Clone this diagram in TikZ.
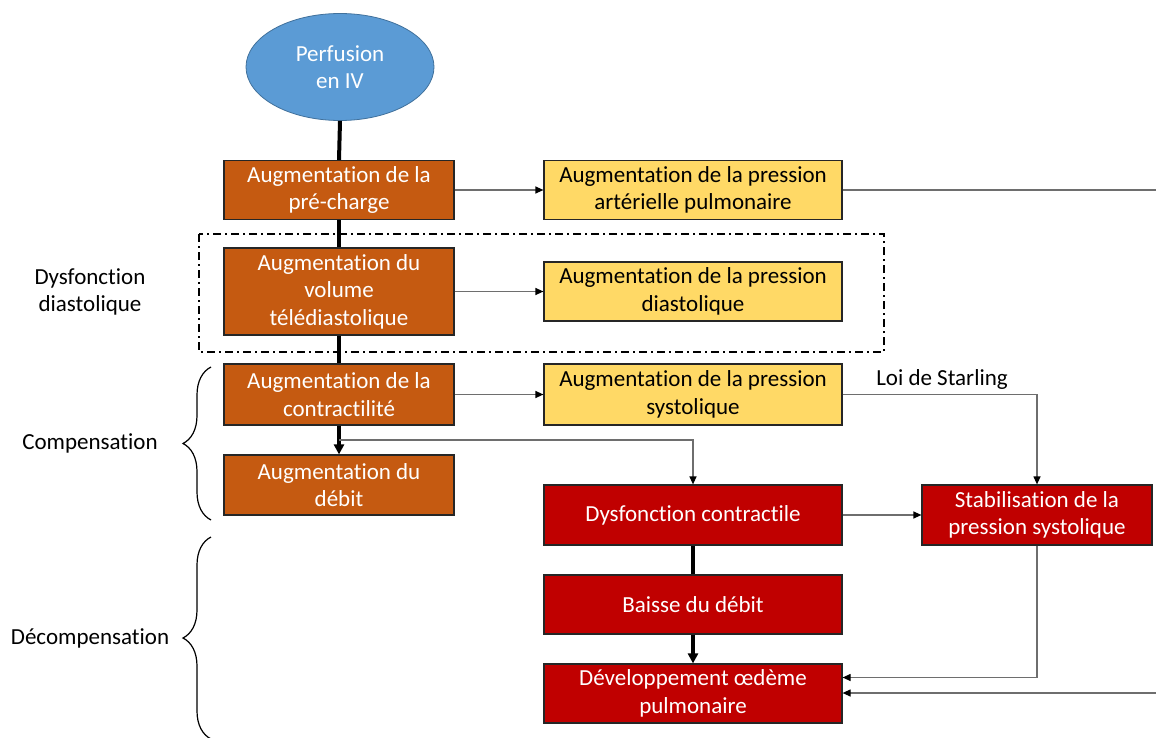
\documentclass[tikz,border=0pt]{standalone}
\usepackage{fontspec}
\setmainfont{Carlito}[Ligatures=NoCommon]
\usetikzlibrary{shapes.geometric, arrows.meta, positioning, calc, decorations.pathreplacing}
\definecolor{perfblue}{RGB}{91,155,213}
\definecolor{perfedge}{RGB}{65,113,156}
\definecolor{stepbrown}{RGB}{197,90,17}
\definecolor{presyellow}{RGB}{255,217,102}
\definecolor{failred}{RGB}{192,0,0}
\definecolor{linkgray}{RGB}{110,110,110}

\begin{document}
\begin{tikzpicture}[x=0.5pt, y=-0.5pt,
  box/.style={draw=black!85, line width=0.6pt, rectangle, align=center, font=\fontsize{11.5}{13.8}\selectfont, inner sep=0pt},
  brownbox/.style={box, fill=stepbrown, text=white, minimum width=115pt, minimum height=29.5pt},
  yellowbox/.style={box, fill=presyellow, text=black, minimum width=149pt, minimum height=29.5pt},
  redbox/.style={box, fill=failred, text=white, minimum width=149pt, minimum height=30pt},
  trunk/.style={line width=2pt, black},
  link/.style={linkgray, line width=0.6pt, -{Triangle[length=4pt, width=3.5pt, color=black]}},
  phase/.style={font=\fontsize{11.5}{13.8}\selectfont, align=center},
  bracket/.style={decorate, decoration={brace, amplitude=14pt}, line width=0.6pt},
]
  \useasboundingbox (0,0) rectangle (1156,738);

  % Start
  \node[ellipse, draw=perfedge, fill=perfblue, text=white, minimum width=94pt, minimum height=53.5pt, inner sep=0pt, font=\fontsize{11.5}{13.8}\selectfont, align=center] (perf) at (340,67) {Perfusion\\en IV};

  % Compensation chain
  \node[brownbox] (precharge) at (339,190) {Augmentation de la\\pré-charge};
  \node[brownbox, minimum height=43.5pt] (volume) at (339,291.5) {Augmentation du\\volume\\télédiastolique};
  \node[brownbox, minimum height=30.5pt] (contract) at (339,394.5) {Augmentation de la\\contractilité};
  \node[brownbox, minimum height=30pt] (debit) at (339,485) {Augmentation du\\débit};

  % Pressures
  \node[yellowbox] (ppulm) at (693,190) {Augmentation de la pression\\artérielle pulmonaire};
  \node[yellowbox] (pdiast) at (693,291.5) {Augmentation de la pression\\diastolique};
  \node[yellowbox, minimum height=30.5pt] (psys) at (693,394.5) {Augmentation de la pression\\systolique};

  % Decompensation chain
  \node[redbox] (dysf) at (693,515) {Dysfonction contractile};
  \node[redbox, minimum width=115pt] (stab) at (1037,515) {Stabilisation de la\\pression systolique};
  \node[redbox, minimum height=29.5pt] (baisse) at (693,604.5) {Baisse du débit};
  \node[redbox, minimum height=29.5pt] (oedeme) at (693,693.5) {Développement œdème\\pulmonaire};

  % Diastolic zone
  \draw[line width=0.75pt, dash pattern=on 4pt off 2pt on 1pt off 2pt] (199,234) rectangle (884,352);

  % Labels
  \node[phase] (diastlbl) at (90,292) {Dysfonction\\diastolique};
  \node[phase] (complbl) at (90,443) {Compensation};
  \node[phase] (decomplbl) at (90,638) {Décompensation};
  \node[phase] (starling) at (942,379) {Loi de Starling};

  % Braces
  \draw[bracket] (211,520) -- (211,367);
  \draw[bracket] (211,739) -- (211,537);

  % Main trunk
  \draw[trunk] (perf.south) -- (precharge.north);
  \draw[trunk] (precharge) -- (volume);
  \draw[trunk] (volume) -- (contract);
  \draw[trunk, -{Triangle[length=5pt, width=5pt]}] (contract) -- (debit);
  \draw[trunk] (dysf) -- (baisse);
  \draw[trunk, -{Triangle[length=5pt, width=5pt]}] (baisse) -- (oedeme);

  % Side links
  \draw[link] (precharge) -- (ppulm);
  \draw[link] (volume) -- (pdiast);
  \draw[link] (contract) -- (psys);
  \coordinate (split) at ($(contract.south)!0.5!(debit.north)$);
  \draw[link] (split) -| (dysf.north);
  \draw[link] (psys.east) -| (stab.north);
  \draw[link] (dysf) -- (stab);
  \draw[link] (stab.south) |- ($(oedeme.east)+(0,-16)$);
  \coordinate (edgetop) at (1156,190);
  \coordinate (edgebot) at (1156,693);
  \draw[linkgray, line width=0.6pt] (ppulm) -- (edgetop);
  \draw[link] (edgebot) -- (oedeme.east |- edgebot);
\end{tikzpicture}
\end{document}
